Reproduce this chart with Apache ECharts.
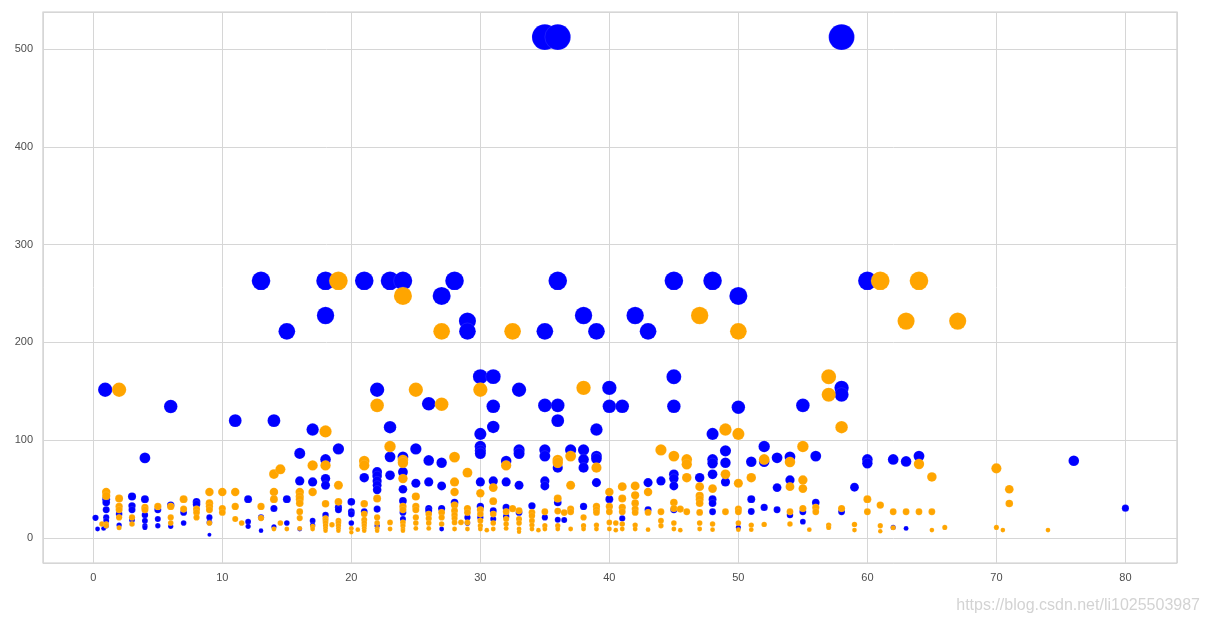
<!DOCTYPE html>
<html>
<head>
<meta charset="utf-8">
<script src="https://cdn.jsdelivr.net/npm/echarts@6/dist/echarts.min.js"></script>
<style>
html,body{margin:0;padding:0;background:#fff;}
#chart{width:1209px;height:624px;}
</style>
</head>
<body>
<div id="chart"></div>
<script>
// Age vs Fare, blue = survived, orange = not survived
var xTicks = [0, 10, 20, 30, 40, 50, 60, 70, 80];
var yTicks = [0, 100, 200, 300, 400, 500];

var survived = [
  [35,512.3],[36,512.3],[58,512.3],
  [13,263],[18,263],[21,263],[23,263],[24,263],[28,263],[36,263],[45,263],[48,263],[60,263],
  [27,247.5],[50,247.5],
  [18,227.5],[29,221.8],[38,227.5],[42,227.5],
  [15,211.3],[29,211.3],[35,211.3],[39,211.3],[43,211.3],
  [0.92,151.6],[22,151.6],[33,151.6],[40,153.5],[58,153.5],
  [30,165],[31,165],[45,164.9],[58,146.5],
  [6,134.5],[31,134.6],[35,135.6],[36,135.6],[40,134.6],[41,134.6],[45,134.6],[50,133.7],[55,135.6],[26,137.3],
  [11,120],[14,120],[36,120],
  [17,110.9],[39,110.9],[23,113.3],[31,113.6],[30,106.4],[48,106.4],
  [4,81.9],[16,86.5],[19,91.1],[25,91.1],[30,93.5],[30,89.1],[33,90],[35,90],[37,90],[38,90],[49,89.1],[52,93.5],
  [0.17,20.6],[0.33,9.2],[0.8,9.8],
  [1,39.7],[1,36.3],[1,28.8],[1,21],[1,17.6],[1,12.5],
  [2,24.4],[2,13.2],
  [3,42.4],[3,32.9],[3,28.8],[3,18.6],
  [4,39.7],[4,23.4],[4,17.6],[4,12.5],[4,10.8],
  [5,28.8],[5,19.3],[5,12.5],
  [6,33.6],[6,11.9],
  [7,26.1],[7,15.3],
  [8,37],[8,34.6],
  [9,21],[9,15.9],[9,3.2],
  [12,39.7],[12,16.6],[12,11.9],
  [13,21],[13,7.5],
  [14,30.2],[14,11.5],
  [15,39.7],[15,15.3],
  [16,58.3],[16,9.2],
  [17,57.3],[17,17.6],[17,13.2],
  [18,80.3],[18,60.7],[18,53.9],[18,23.4],
  [19,31.2],[19,28.8],
  [20,37],[20,26.8],[20,24.4],[20,15.3],
  [21,61.7],[21,26.8],
  [22,67.5],[22,63.4],[22,58.3],[22,53.9],[22,49.2],[22,29.5],[22,12.5],
  [23,83],[23,64.1],
  [24,83],[24,67.5],[24,49.8],[24,38],[24,26.1],[24,19.3],
  [25,55.9],
  [26,79.3],[26,57.3],[26,30.2],[26,27.8],
  [27,77],[27,53.2],[27,30.2],[27,9.2],
  [28,36.3],
  [29,21],[29,15.3],
  [30,86.4],[30,57.3],[30,32.2],[30,21],
  [31,58.3],[31,27.8],[31,19.3],
  [32,78.6],[32,57.3],[32,31.2],[32,22],
  [33,86.4],[33,53.9],[33,26.1],
  [34,32.9],
  [35,83.7],[35,58.3],[35,53.2],[35,21],
  [36,71.9],[36,36.3],[36,18.6],[36.5,18.3],
  [38,80.3],[38,71.9],[38,32.2],
  [39,83.7],[39,81],[39,56.6],
  [40,39.7],[41,20],
  [43,56.6],[43,28.8],
  [44,58.3],
  [45,65.1],[45,60.7],[45,53.2],[45,28.8],
  [47,61.7],
  [48,80.3],[48,76.3],[48,65.1],[48,39.7],[48,35.6],[48,26.8],
  [49,77],[49,57.3],
  [50,10.8],
  [51,78],[51,39.7],[51,27.1],
  [52,78],[52,31.2],
  [53,82],[53,51.5],[53,28.8],
  [54,83],[54,59.3],[54,23.4],
  [55,26.8],[55,16.6],
  [56,83.7],[56,36.3],
  [58,26.8],[59,51.9],
  [60,80.3],[60,76.3],
  [62,80.3],[62,10.8],
  [63,78.3],[63,9.8],
  [64,83.7],[76,79],[80,30.5]
];

var died = [
  [19,263],[61,263],[64,263],[24,247.5],[47,227.5],[27,211.3],[32.5,211.3],[50,211.3],[63,221.8],[67,221.8],
  [2,151.6],[25,151.6],[30,151.6],[38,153.5],[57,164.9],[57,146.5],[22,135.6],[27,136.8],[58,113.3],
  [18,108.9],[49,110.9],[50,106.4],[23,93.5],[55,93.5],[44,90],
  [0.67,14.4],
  [1,47.1],[1,43],[1,14.2],[1,12.5],
  [2,40.3],[2,32.2],[2,28.8],[2,21],[2,10.5],
  [3,21],[3,14.2],
  [4,31.2],[4,28.8],
  [5,32.2],
  [6,32.2],[6,21],[6,15.3],
  [7,39.7],[7,29.5],
  [8,29.5],[8,26.1],[8,21],
  [9,47.1],[9,35.6],[9,32.2],[9,28.8],[9,15.3],
  [10,47.1],[10,30.2],[10,26.1],
  [11,47.1],[11,32.2],[11,19.3],[11.5,15.3],
  [13,32.2],[13,20.3],
  [14,65.4],[14.5,70.2],[14,47.1],[14,39.7],[14,9.2],[14.5,15.3],
  [15,9.2],
  [16,47.1],[16,42.4],[16,39.7],[16,35.6],[16,26.8],[16,20.3],[16,9.8],
  [17,74.2],[17,47.1],[17,11.9],[17,9.2],
  [18,74.2],[18,34.9],[18,20],[18,17.6],[18,15.3],[18,12.5],[18,9.8],[18,7.5],[18.5,13.6],
  [19,53.9],[19,37],[19,17.6],[19,15.3],[19,12.5],[19,9.8],[19,7.5],
  [20,9.8],[20,5.8],[20.5,8.5],
  [21,78.6],[21,74.2],[21,34.9],[21,24.4],[21,18.6],[21,15.3],[21,12.5],[21,9.8],[21,7.5],
  [22,40.3],[22,21],[22,15.3],[22,9.8],[22,7.5],
  [23,15.9],[23,9.2],
  [24,79.7],[24,77],[24,60.7],[24,32.2],[24,28.8],[24,15.9],[24,12.5],[24,9.2],[24,7.5],
  [25,42.4],[25,32.2],[25,28.8],[25,21],[25,15.3],[25,9.8],
  [26,24.4],[26,20],[26,15.3],[26,9.8],
  [27,26.1],[27,21],[27,14.2],
  [28,82.7],[28,57.3],[28,47.1],[28,33.6],[28,27.8],[28,23.4],[28,20],[28,15.9],[28,9.2],[28.5,16],
  [29,66.8],[29,30.2],[29,26.1],[29,15.9],[29,9.2],
  [30,45.8],[30,28.8],[30,24.4],[30,17.6],[30,12.5],[30,9.2],[30.5,8],
  [31,51.5],[31,37.6],[31,24.4],[31,15.3],[31,9.2],
  [32,74.2],[32,26.8],[32,19.3],[32,14.2],[32,9.8],[32.5,30],
  [33,27.8],[33,19.3],[33,15.3],[33,9.2],[33,6.4],
  [34,26.1],[34,22.7],[34,17.6],[34,13.2],[34,9.2],[34.5,8],
  [35,26.8],[35,12.5],[35,9.2],
  [36,79.7],[36,77],[36,40.3],[36,27.5],[36,12.5],[36,9.2],[36.5,26],
  [37,83.7],[37,53.9],[37,29.5],[37,26.8],[37,9.2],
  [38,21],[38,12.5],[38,9.2],
  [39,71.9],[39,32.2],[39,28.8],[39,26.1],[39,13.2],[39,9.2],
  [40,47.1],[40,32.2],[40,26.8],[40,15.9],[40,9.2],[40.5,15.3],[40.5,8],
  [41,52.5],[41,40.3],[41,31.2],[41,26.8],[41,14.2],[41,9.2],
  [42,53.2],[42,43.7],[42,35.6],[42,29.5],[42,26.1],[42,13.2],[42,9.2],
  [43,47.1],[43,26.1],[43,8.5],
  [44,26.8],[44,17.6],[44,12.5],
  [45,83.7],[45,36.3],[45,30.2],[45,15.3],[45,9.2],[45.5,29.5],[45.5,8],
  [46,80.3],[46,75.3],[46,61.7],[46,26.8],
  [47,52.5],[47,43],[47,39.7],[47,35.6],[47,26.1],[47,15.3],[47,9.2],
  [48,50.5],[48,14.2],[48,8.5],
  [49,65.1],[49,26.8],
  [50,55.9],[50,29.5],[50,26.8],[50,15.3],[50,8.5],
  [51,61.7],[51,13.2],[51,8.5],
  [52,80.3],[52,13.9],
  [54,77.6],[54,52.5],[54,26.8],[54,14.2],
  [55,59.3],[55,50.5],[55,30.2],[55.5,8.5],
  [56,31.2],[56,26.8],
  [57,13.2],[57,10.8],
  [58,30.2],
  [59,13.9],[59,8.1],
  [60,39.7],[60,26.8],
  [61,33.6],[61,12.5],[61,6.8],
  [62,26.8],[62,10.5],
  [63,26.8],
  [64,75.6],[64,26.8],
  [65,62.4],[65,26.8],[65,8.1],
  [66,10.8],
  [70,71.2],[70,10.8],[70.5,8.1],
  [71,49.8],[71,35.3],
  [74,8.1]
];

// marker area proportional to fare (plus a small edge allowance)
function sizeOf(v){ return Math.sqrt(4 * v[1] / Math.PI + 12); }

var chart = echarts.init(document.getElementById('chart'), null, {renderer:'canvas'});
var labelStyle = {color:'#4d4d4d', fontSize:11, fontFamily:'Liberation Sans, Arial, sans-serif'};
chart.setOption({
  animation:false,
  backgroundColor:'#ffffff',
  grid:{left:43, top:12, right:32, bottom:61, show:true, borderColor:'#cccccc', borderWidth:1.2, backgroundColor:'#ffffff'},
  xAxis:{
    type:'value', min:-3.9, max:84, splitNumber:9,
    axisLine:{show:false}, axisTick:{show:false},
    splitLine:{show:true, lineStyle:{color:'#d6d6d6', width:1}},
    axisLabel:Object.assign({margin:9, showMinLabel:false, showMaxLabel:false,
      formatter:function(v){ return xTicks.indexOf(v) >= 0 ? String(v) : ''; }}, labelStyle)
  },
  yAxis:{
    type:'value', min:-25.6, max:537.9, splitNumber:6,
    axisLine:{show:false}, axisTick:{show:false},
    splitLine:{show:true, lineStyle:{color:'#d6d6d6', width:1}},
    axisLabel:Object.assign({margin:10, showMinLabel:false, showMaxLabel:false,
      formatter:function(v){ return yTicks.indexOf(v) >= 0 ? String(v) : ''; }}, labelStyle)
  },
  series:[
    {type:'scatter', name:'survived', data:survived, symbolSize:sizeOf,
     itemStyle:{color:'#0000ff', opacity:1, borderColor:'rgba(255,255,255,0.35)', borderWidth:0.3}},
    {type:'scatter', name:'died', data:died, symbolSize:sizeOf,
     itemStyle:{color:'#ffa500', opacity:1, borderColor:'rgba(255,255,255,0.35)', borderWidth:0.3}}
  ],
  graphic:[{
    type:'text', right:9, bottom:10,
    style:{text:'https://blog.csdn.net/li1025503987', fill:'#d3d3d3', font:'16px Liberation Sans, Arial, sans-serif'}
  }]
});
</script>
</body>
</html>
